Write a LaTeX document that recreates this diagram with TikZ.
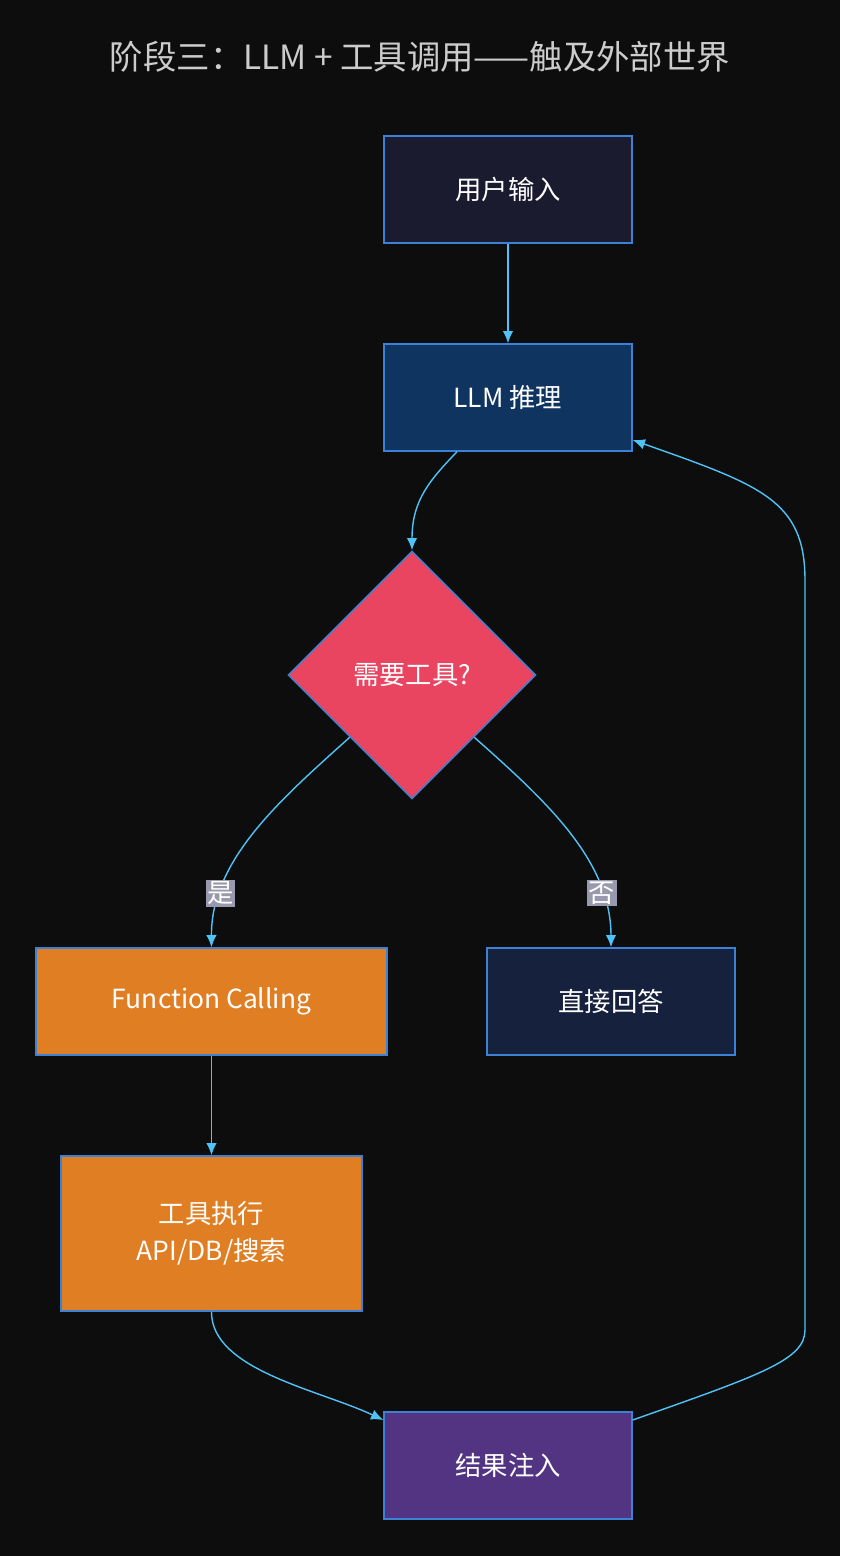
\documentclass[tikz,border=0pt]{standalone}
\usepackage{fontspec}
\setmainfont{Noto Sans CJK SC}
\usetikzlibrary{shapes.geometric,arrows.meta}
\definecolor{bg}{HTML}{0D0D0D}
\definecolor{edge}{HTML}{3B82D6}
\definecolor{line}{HTML}{4FC3F7}
\tikzset{
  box/.style={draw=edge,line width=0.8pt,minimum width=248*0.02cm,minimum height=107*0.02cm,text=white,font=\fontsize{15}{19}\selectfont,align=center,inner sep=0},
  conn/.style={draw=line,line width=0.8pt,-{Latex[length=7pt,width=6pt]}},
  lab/.style={fill=HTML1E1E30,text=white,font=\fontsize{15}{18}\selectfont,inner sep=1pt}
}
\colorlet{HTML1E1E30}{black!80!blue!40}
\begin{document}
\begin{tikzpicture}[x=0.02cm,y=-0.02cm]
\fill[bg] (0,0) rectangle (840,1556);
\useasboundingbox (0,0) rectangle (840,1556);
\node[text=black!20,font=\fontsize{19}{23}\selectfont] (title) at (420,57) {阶段三：LLM + 工具调用——触及外部世界};
\node[box,fill={rgb,255:red,27;green,27;blue,48}] (in) at (508,189.5) {用户输入};
\node[box,fill={rgb,255:red,15;green,52;blue,96}] (llm) at (508,397.5) {LLM 推理};
\node[diamond,draw=edge,line width=0.8pt,fill={rgb,255:red,233;green,69;blue,96},minimum width=248*0.02cm,minimum height=248*0.02cm,inner sep=0,text=white,font=\fontsize{15}{19}\selectfont] (dec) at (412,675) {需要工具?};
\node[box,fill={rgb,255:red,224;green,126;blue,36},minimum width=351*0.02cm] (fc) at (211.5,1001.5) {Function Calling};
\node[box,fill={rgb,255:red,22;green,33;blue,62}] (ans) at (611,1001.5) {直接回答};
\node[box,fill={rgb,255:red,224;green,126;blue,36},minimum width=301*0.02cm,minimum height=155*0.02cm] (exec) at (211.5,1233.5) {工具执行\\[2pt]API/DB/搜索};
\node[box,fill={rgb,255:red,83;green,52;blue,131}] (res) at (508,1465.5) {结果注入};
\draw[conn] (in) -- (llm);
\draw[conn] ([xshift=-51*0.02cm]llm.south) .. controls (430,480) and (412,500) .. (dec.north);
\draw[conn] (dec.south west) .. controls (280,800) and (211,860) .. node[lab,pos=0.78]{是} (fc.north);
\draw[conn] (dec.south east) .. controls (545,800) and (611,860) .. node[lab,pos=0.78]{否} (ans.north);
\draw[conn] (fc) -- (exec);
\draw[conn] (exec.south) .. controls (211,1370) and (320,1390) .. (res.west |- 0,1420);
\coordinate (r1) at (805,1330);
\coordinate (r2) at (805,580);
\draw[conn] (res.east |- 0,1420) .. controls (760,1375) and (805,1360) .. (r1) -- (r2) .. controls (805,500) and (760,485) .. (llm.east |- 0,440);
\end{tikzpicture}
\end{document}
